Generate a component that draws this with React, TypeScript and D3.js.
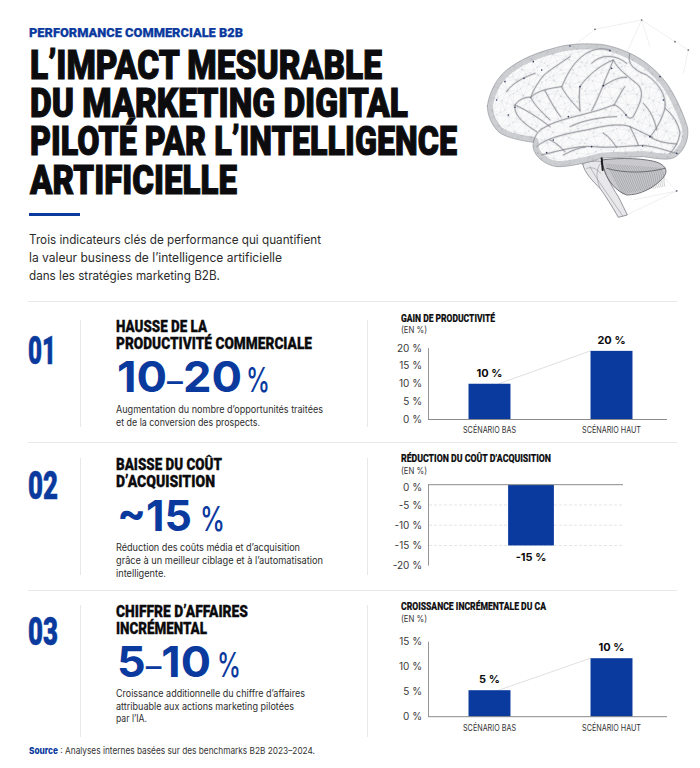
import React from "react";
import * as d3 from "d3";

const BLUE = "#0b3a9e";
const INK = "#0c0c0e";

const scenarioLabels = ["SCÉNARIO BAS", "SCÉNARIO HAUT"];
const productivityBars = [10, 19.2];
const productivityLabels = ["10 %", "20 %"];
const productivityTicks = [0, 5, 10, 15, 20];
const acquisitionCategory = ["Réduction"];
const acquisitionBars = [-15];
const acquisitionLabels = ["-15 %"];
const acquisitionTicks = [0, -5, -10, -15, -20];
const revenueBars = [5.3, 11.7];
const revenueLabels = ["5 %", "10 %"];
const revenueTicks = [0, 5, 10, 15];

const outline = "M52 258 C58 215 80 175 110 150 C150 118 200 98 250 85 C290 72 340 70 370 72 C400 70 450 85 480 100 C520 118 560 150 590 190 C615 225 640 280 652 320 C658 345 650 385 620 408 C600 425 560 415 520 410 C480 412 430 412 395 415 C360 425 300 442 260 440 C225 435 195 410 190 385 C188 378 190 372 190 367 C150 362 105 352 85 335 C65 315 52 285 52 258 Z";
const gyri = [
  "M190 367 C195 345 205 330 228 320 C260 300 320 290 370 275 C400 268 425 255 435 255 C450 262 460 275 468 285",
  "M200 380 C225 355 290 340 350 330 C400 318 440 310 475 318 C505 330 530 345 548 352",
  "M215 405 C260 395 320 375 370 380 C420 385 470 378 520 376 C560 380 590 392 625 402",
  "M240 320 C215 300 170 270 135 255 C145 240 165 230 182 232 C205 210 240 205 275 200 C290 170 300 140 335 110 C360 90 390 80 420 90",
  "M182 232 C195 260 225 285 240 300 M225 212 C240 240 255 270 272 290 M275 200 C285 225 315 255 330 272",
  "M330 200 C350 170 390 135 430 120 C420 150 405 175 398 200 C385 230 375 255 365 272",
  "M430 120 C445 150 470 165 505 195 C525 220 510 250 490 290 C480 300 470 290 468 285",
  "M398 200 C420 185 445 170 470 172 M432 255 C445 235 455 210 465 200",
  "M330 200 C325 230 330 255 330 272 M300 110 C270 130 240 150 222 165 C205 185 190 210 182 232",
  "M480 100 C470 130 490 150 530 165 C565 190 590 225 585 265 C575 300 555 335 540 350",
  "M135 255 C130 285 160 310 200 335 M110 215 C125 190 165 170 195 160",
  "M585 265 C610 285 625 310 630 340 C625 370 610 390 600 400",
  "M470 130 C440 105 395 100 365 130 M540 350 C560 365 590 370 620 372",
  "M300 320 C340 300 400 290 440 290 M280 405 C300 395 330 380 345 382 M240 360 C262 370 275 385 285 395",
  "M400 340 C420 350 430 370 440 382 M480 320 C490 340 500 360 505 376 M520 250 C540 270 555 300 560 330",
];
const corticalDots = [[135,262],[162,175],[190,125],[215,150],[300,78],[420,92],[425,145],[400,197],[330,200],[580,240],[540,350],[518,378],[365,380],[230,398],[250,360],[468,285],[570,170],[115,285],[80,240],[105,185],[295,290],[620,400]];
const webLines = ["M320 70 L375 28 L515 0 L470 98","M515 0 L615 65 L655 90 L640 160","M515 0 L540 80","M470 585 L620 513 L570 460 M490 540 L620 513"];
const webDots = [[375,28],[515,0],[615,65],[655,90],[620,513]];
const cerebellumOuter = "M395 420 C450 412 530 415 565 428 C590 440 595 455 578 475 C550 505 510 525 470 525 C440 515 415 485 405 455 C400 440 396 430 395 420 Z";
const stem = "M338 432 C350 425 380 420 395 425 C398 450 425 500 445 530 C455 550 465 570 472 585 L445 592 C430 565 405 525 390 505 C365 480 345 460 338 432 Z";

type TP = { x: number; y: number; w?: number; size: number; weight?: number; fill?: string; family?: string; anchor?: string; bold?: number; children: React.ReactNode };
function T({ x, y, w, size, weight = 400, fill = INK, family = "Roboto", anchor = "start", bold = 0, children }: TP) {
  return (
    <text x={x} y={y} fontFamily={family} fontSize={size} fontWeight={weight} fill={fill} textAnchor={anchor}
      stroke={bold ? fill : "none"} strokeWidth={bold}
      {...(w ? { textLength: w, lengthAdjust: "spacingAndGlyphs" } : {})}>{children}</text>
  );
}

function Brain() {
  const pts: [number, number][] = [];
  d3.range(40, 670, 24).forEach((gx, i) => {
    d3.range(60, 450, 21).forEach((gy, j) => {
      pts.push([gx + 8 * Math.sin(i * 2.3 + j * 1.7), gy + 7 * Math.cos(i * 1.3 + j * 2.9)]);
    });
  });
  const mesh = d3.Delaunay.from(pts).render();
  const cerebellumLines = d3.range(0, 24);
  return (
    <g transform="translate(470,20) scale(0.3333)" fill="none" strokeLinejoin="round" strokeLinecap="round">
      <defs><clipPath id="cortex"><path d={outline} /></clipPath></defs>
      {webLines.map((d, i) => <path key={i} d={d} stroke="#e2e3e7" strokeWidth={1.6} />)}
      {webDots.map(([x, y], i) => <circle key={i} cx={x} cy={y} r={2.6} fill="#667" />)}
      <path d={stem} fill="#e8e8ea" stroke="#63656c" strokeWidth={2} />
      <path d="M360 440 C380 480 420 530 458 588 M395 425 C380 445 375 465 390 505 M350 445 C365 440 380 445 392 460" stroke="#8a8c92" strokeWidth={1.6} />
      <path d={cerebellumOuter} fill="#c9c9cd" stroke="#55575d" strokeWidth={2.4} />
      {cerebellumLines.map((i) => (
        <path key={i} d={`M${408 + i * 7} ${432 + i * 0.5} C${428 + i * 7} 460 ${440 + i * 6} 490 ${458 + i * 5.5} ${522 - i}`} stroke="#6b6d73" strokeWidth={1} />
      ))}
      <path d="M410 445 C460 460 530 460 585 445" stroke="#44464c" strokeWidth={2} />
      <path d={outline} fill="#fafafb" stroke="#85878e" strokeWidth={1.6} />
      <g clipPath="url(#cortex)">
        <path d={mesh} stroke="#bcbec4" strokeWidth={0.7} opacity={0.7} />
        <path d={outline} stroke="#73757c" strokeWidth={34} strokeDasharray="2 8" opacity={0.32} />
        {gyri.map((d, i) => <path key={i} d={d} stroke="#c2c4c9" strokeWidth={7} opacity={0.4} />)}
        {gyri.map((d, i) => <path key={i} d={d} stroke="#6a6c73" strokeWidth={1.7} />)}
      </g>
      {corticalDots.map(([x, y], i) => <circle key={i} cx={x} cy={y} r={2.4} fill="#2b3558" />)}
      <path d="M395 415 L398 450" stroke="#1c1d22" strokeWidth={6} />
    </g>
  );
}

type ChartProps = {
  title: string; titleW: number; titleY: number; enY: number;
  categories: string[]; bars: number[]; valueLabels: string[]; ticks: number[];
  domain: [number, number]; yRange: [number, number]; xRange: [number, number];
  pInner: number; pOuter: number; axisEnd: number; labelY?: number; showGrid?: boolean; tickDy?: (t: number) => number;
};

function BarChart(p: ChartProps) {
  const y = d3.scaleLinear().domain(p.domain).range(p.yRange);
  const x = d3.scaleBand<string>().domain(p.categories).range(p.xRange).paddingInner(p.pInner).paddingOuter(p.pOuter);
  const rects = p.categories.map((c, i) => {
    const a = y(0), b = y(p.bars[i]);
    return { c, i, x: x(c)!, w: x.bandwidth(), top: Math.min(a, b), h: Math.abs(a - b), neg: p.bars[i] < 0 };
  });
  const zero = y(0);
  const axisTop = Math.min(p.yRange[0], p.yRange[1]);
  const axisBot = Math.max(p.yRange[0], p.yRange[1]);
  return (
    <g>
      <T x={401} y={p.titleY} w={p.titleW} size={10} weight={800} bold={0.2}>{p.title}</T>
      <T x={401} y={p.enY} w={26} size={9.5} fill="#333" family="Inter">(EN %)</T>
      {p.showGrid && p.ticks.filter((t) => t < 0 && t > p.domain[0]).map((t) => (
        <line key={t} x1={429} x2={p.axisEnd} y1={y(t)} y2={y(t)} stroke="#dcdee2" strokeWidth={0.8} strokeDasharray="3 2" />
      ))}
      {rects.length === 2 && (
        <line x1={rects[0].x + rects[0].w * 0.72} y1={rects[0].top} x2={rects[1].x} y2={rects[1].top} stroke="#e0e0e2" strokeWidth={1} />
      )}
      {rects.map((r) => <rect key={r.c} x={r.x} y={r.top} width={r.w} height={r.h} fill={BLUE} />)}
      <line x1={428.5} x2={428.5} y1={axisTop} y2={axisBot} stroke="#8a8a8a" strokeWidth={0.9} />
      <line x1={428} x2={p.axisEnd} y1={zero} y2={zero} stroke="#8a8a8a" strokeWidth={1} />
      {p.ticks.map((t) => (
        <T key={t} x={422} y={y(t) + 3.6 + (p.tickDy ? p.tickDy(t) : 0)} size={10} anchor="end" fill="#3a3a3a" family="Inter">{`${t} %`}</T>
      ))}
      {rects.map((r) => (
        <T key={r.c} x={r.x + r.w / 2} y={r.neg ? r.top + r.h + 16 : r.top - 7} size={11} weight={700} anchor="middle" family="Inter">{p.valueLabels[r.i]}</T>
      ))}
      {p.labelY && rects.map((r) => (
        <T key={r.c} x={r.x + r.w / 2} y={p.labelY!} w={r.i === 0 ? 53 : 59} size={9} anchor="middle" fill="#333" family="Inter">{r.c}</T>
      ))}
    </g>
  );
}

function Section(p: { num: string; numY: number; numW: number; heads: string[]; headW: number[]; headY: number[]; big: string; bigW: number; bigY: number; pctX: number; pctW: number; desc: string[]; descW: number[]; descY: number[]; ruleY: [number, number] }) {
  const parts = p.big.split("–");
  return (
    <g>
      <T x={28} y={p.numY} w={p.numW} size={38} weight={900} fill={BLUE} bold={0.6}>{p.num}</T>
      <line x1={80.5} x2={80.5} y1={p.ruleY[0]} y2={p.ruleY[1]} stroke="#e8e8ea" />
      <line x1={367.5} x2={367.5} y1={p.ruleY[0]} y2={p.ruleY[1]} stroke="#e8e8ea" />
      {p.heads.map((h, i) => <T key={h} x={116} y={p.headY[i]} w={p.headW[i]} size={16} weight={900} bold={0.3}>{h}</T>)}
      <T x={117} y={p.bigY} w={p.bigW} size={43} weight={700} family="Inter" fill={BLUE}>
        {parts.length === 2 ? <>{parts[0]}<tspan fontWeight={500} fontSize={30}>–</tspan>{parts[1]}</> : p.big}
      </T>
      <T x={p.pctX} y={p.bigY} w={p.pctW} size={34} weight={500} family="Inter" fill={BLUE}>%</T>
      {p.desc.map((d, i) => <T key={d} x={116} y={p.descY[i]} w={p.descW[i]} size={9.8} fill="#2c2c2c" family="Inter">{d}</T>)}
    </g>
  );
}

export default function App() {
  return (
    <svg width={700} height={768} viewBox="0 0 700 768" style={{ position: "absolute", left: 0, top: 0, background: "#fff" }}>
      <rect width={700} height={768} fill="#fff" />
      <T x={29} y={37} w={214} size={13.5} weight={900} fill={BLUE} bold={0.25}>PERFORMANCE COMMERCIALE B2B</T>
      <T x={30} y={79} w={352} size={40} weight={900} bold={1.1}>L’IMPACT MESURABLE</T>
      <T x={30} y={117} w={378} size={40} weight={900} bold={1.1}>DU MARKETING DIGITAL</T>
      <T x={30} y={155} w={427} size={40} weight={900} bold={1.1}>PILOTÉ PAR L’INTELLIGENCE</T>
      <T x={30} y={194} w={207} size={40} weight={900} bold={1.1}>ARTIFICIELLE</T>
      <rect x={29} y={213} width={51} height={3} fill={BLUE} />
      <T x={29} y={244} w={292} size={12.5} fill="#2c2c2c" family="Inter">Trois indicateurs clés de performance qui quantifient</T>
      <T x={29} y={262} w={253} size={12.5} fill="#2c2c2c" family="Inter">la valeur business de l’intelligence artificielle</T>
      <T x={29} y={280} w={191} size={12.5} fill="#2c2c2c" family="Inter">dans les stratégies marketing B2B.</T>
      <Brain />
      {[301, 442, 590].map((v) => <line key={v} x1={28} x2={677} y1={v + 0.5} y2={v + 0.5} stroke="#e8e8ea" strokeWidth={1.2} />)}

      <Section num="01" numY={364} numW={28} heads={["HAUSSE DE LA", "PRODUCTIVITÉ COMMERCIALE"]} headW={[91, 196]} headY={[332, 349]} big="10–20" bigW={125} bigY={392} pctX={246} pctW={24}
        desc={["Augmentation du nombre d’opportunités traitées", "et de la conversion des prospects."]} descW={[207, 144]} descY={[413, 426]} ruleY={[320, 427]} />
      <Section num="02" numY={499} numW={30} heads={["BAISSE DU COÛT", "D’ACQUISITION"]} headW={[106, 99]} headY={[470, 487]} big="~15" bigW={75} bigY={531} pctX={200} pctW={25}
        desc={["Réduction des coûts média et d’acquisition", "grâce à un meilleur ciblage et à l’automatisation", "intelligente."]} descW={[184, 207, 50]} descY={[551, 564, 577]} ruleY={[458, 575]} />
      <Section num="03" numY={645} numW={30} heads={["CHIFFRE D’AFFAIRES", "INCRÉMENTAL"]} headW={[132, 91]} headY={[617, 634]} big="5–10" bigW={94} bigY={677} pctX={217} pctW={24}
        desc={["Croissance additionnelle du chiffre d’affaires", "attribuable aux actions marketing pilotées", "par l’IA."]} descW={[189, 178, 31]} descY={[697, 710, 722]} ruleY={[605, 737]} />

      <BarChart title="GAIN DE PRODUCTIVITÉ" titleW={94} titleY={322} enY={333} categories={scenarioLabels} bars={productivityBars}
        valueLabels={productivityLabels} ticks={productivityTicks} domain={[0, 20]} yRange={[419.5, 348]} xRange={[428.5, 672.5]}
        pInner={0.656} pOuter={0.328} axisEnd={667} labelY={433} />
      <BarChart title="RÉDUCTION DU COÛT D’ACQUISITION" titleW={150} titleY={462} enY={474} categories={acquisitionCategory} bars={acquisitionBars}
        valueLabels={acquisitionLabels} ticks={acquisitionTicks} domain={[-20, 0]} yRange={[565.7, 484.7]} xRange={[428, 634]}
        pInner={0} pOuter={1.75} axisEnd={623} showGrid tickDy={(t) => (t === 0 ? 3 : 0)} />
      <BarChart title="CROISSANCE INCRÉMENTALE DU CA" titleW={145} titleY={610} enY={622} categories={scenarioLabels} bars={revenueBars}
        valueLabels={revenueLabels} ticks={revenueTicks} domain={[0, 15]} yRange={[716.7, 641.7]} xRange={[428.5, 672.5]}
        pInner={0.656} pOuter={0.328} axisEnd={667} labelY={731} />

      <text x={29} y={754} fontFamily="Inter" fontSize={9.6} fill="#333" textLength={286} lengthAdjust="spacingAndGlyphs">
        <tspan fontWeight={800} fill={BLUE}>Source</tspan> : Analyses internes basées sur des benchmarks B2B 2023–2024.
      </text>
    </svg>
  );
}
